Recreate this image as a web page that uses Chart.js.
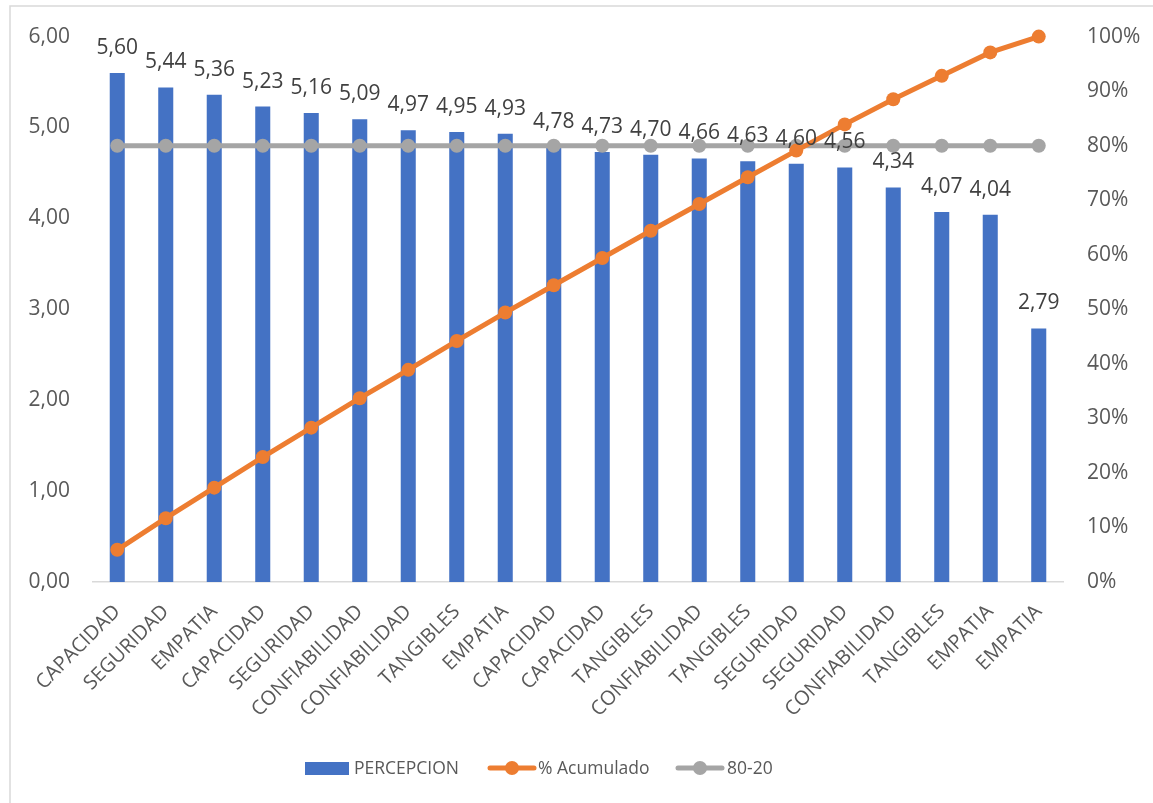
<!DOCTYPE html>
<html lang="es">
<head>
    <meta charset="UTF-8">
    <title>Pareto - Percepcion</title>
    <script src="https://cdn.jsdelivr.net/npm/chart.js"></script>
    <style>
        html, body {
            margin: 0;
            padding: 0;
            background: #ffffff;
        }
        #wrap {
            width: 1153px;
            height: 803px;
            position: relative;
        }
    </style>
</head>
<body>
    <div id="wrap">
        <canvas id="pareto-chart"></canvas>
    </div>

    <script>
        // data
        const categorias = ['CAPACIDAD', 'SEGURIDAD', 'EMPATIA', 'CAPACIDAD', 'SEGURIDAD', 'CONFIABILIDAD',
            'CONFIABILIDAD', 'TANGIBLES', 'EMPATIA', 'CAPACIDAD', 'CAPACIDAD', 'TANGIBLES', 'CONFIABILIDAD',
            'TANGIBLES', 'SEGURIDAD', 'SEGURIDAD', 'CONFIABILIDAD', 'TANGIBLES', 'EMPATIA', 'EMPATIA'];
        const percepcion = [5.60, 5.44, 5.36, 5.23, 5.16, 5.09, 4.97, 4.95, 4.93, 4.78,
            4.73, 4.70, 4.66, 4.63, 4.60, 4.56, 4.34, 4.07, 4.04, 2.79];
        const acumulado = [5.9, 11.7, 17.3, 22.9, 28.3, 33.7, 38.9, 44.2, 49.4, 54.4,
            59.4, 64.4, 69.3, 74.2, 79.1, 83.9, 88.5, 92.8, 97.1, 100];
        const linea8020 = [80, 80, 80, 80, 80, 80, 80, 80, 80, 80,
            80, 80, 80, 80, 80, 80, 80, 80, 80, 80];

        const FONT = '"Open Sans", "Noto Sans", sans-serif';

        function coma(v) {
            return v.toFixed(2).replace('.', ',');
        }

        // outer frame, value labels and legend
        const extras = {
            id: 'extras',
            beforeDraw(chart) {
                const c = chart.ctx;
                c.save();
                c.strokeStyle = '#d9d9d9';
                c.lineWidth = 1.5;
                c.strokeRect(10, 6, 1300, 1000);
                c.restore();
            },
            afterDraw(chart) {
                const c = chart.ctx;
                const meta = chart.getDatasetMeta(0);
                c.save();
                c.font = '21px ' + FONT;
                c.fillStyle = '#404040';
                c.textAlign = 'center';
                c.textBaseline = 'middle';
                meta.data.forEach((bar, i) => {
                    c.fillText(coma(percepcion[i]), bar.x, bar.y - 25);
                });

                // legend
                const ly = 768;
                c.font = '17.5px ' + FONT;
                c.textAlign = 'left';
                c.fillStyle = '#4472c4';
                c.fillRect(305, ly - 6, 44, 13);
                c.fillStyle = '#595959';
                c.fillText('PERCEPCION', 354, ly + 1);

                c.strokeStyle = '#ed7d31';
                c.lineWidth = 5;
                c.lineCap = 'round';
                c.beginPath(); c.moveTo(490, ly); c.lineTo(534, ly); c.stroke();
                c.fillStyle = '#ed7d31';
                c.beginPath(); c.arc(512, ly, 7, 0, Math.PI * 2); c.fill();
                c.fillStyle = '#595959';
                c.fillText('% Acumulado', 538, ly + 1);

                c.strokeStyle = '#a5a5a5';
                c.beginPath(); c.moveTo(678, ly); c.lineTo(722, ly); c.stroke();
                c.fillStyle = '#a5a5a5';
                c.beginPath(); c.arc(700, ly, 7, 0, Math.PI * 2); c.fill();
                c.fillStyle = '#595959';
                c.fillText('80-20', 727, ly + 1);
                c.restore();
            }
        };

        const ctx = document.getElementById('pareto-chart').getContext('2d');
        new Chart(ctx, {
            data: {
                labels: categorias,
                datasets: [
                    {
                        type: 'bar',
                        label: 'PERCEPCION',
                        data: percepcion,
                        yAxisID: 'y',
                        backgroundColor: '#4472c4',
                        barPercentage: 0.62,
                        categoryPercentage: 0.5,
                        order: 3
                    },
                    {
                        type: 'line',
                        label: '80-20',
                        data: linea8020,
                        yAxisID: 'y1',
                        borderColor: '#a5a5a5',
                        backgroundColor: '#a5a5a5',
                        borderWidth: 5,
                        pointRadius: 7,
                        pointBorderWidth: 0,
                        clip: false,
                        order: 2
                    },
                    {
                        type: 'line',
                        label: '% Acumulado',
                        data: acumulado,
                        yAxisID: 'y1',
                        borderColor: '#ed7d31',
                        backgroundColor: '#ed7d31',
                        borderWidth: 5,
                        pointRadius: 7,
                        pointBorderWidth: 0,
                        clip: false,
                        order: 1
                    }
                ]
            },
            options: {
                responsive: true,
                maintainAspectRatio: false,
                animation: false,
                layout: { padding: { top: 36, left: 0, right: 0, bottom: 0 } },
                plugins: {
                    legend: { display: false },
                    tooltip: { enabled: false }
                },
                scales: {
                    x: {
                        afterFit(scale) { scale.height = 221; },
                        grid: { display: false, drawTicks: false },
                        border: { color: '#d9d9d9', width: 1.5 },
                        ticks: {
                            autoSkip: false,
                            minRotation: 45,
                            maxRotation: 45,
                            padding: 18,
                            color: '#595959',
                            font: { family: FONT, size: 20 }
                        }
                    },
                    y: {
                        position: 'left',
                        min: 0,
                        max: 6,
                        afterFit(scale) { scale.width = 93; },
                        grid: { display: false, drawTicks: false },
                        border: { display: false },
                        ticks: {
                            stepSize: 1,
                            padding: 23,
                            color: '#595959',
                            font: { family: FONT, size: 21 },
                            callback: v => coma(v)
                        }
                    },
                    y1: {
                        position: 'right',
                        min: 0,
                        max: 100,
                        afterFit(scale) { scale.width = 90; },
                        grid: { display: false, drawTicks: false },
                        border: { display: false },
                        ticks: {
                            stepSize: 10,
                            padding: 24,
                            color: '#595959',
                            font: { family: FONT, size: 21 },
                            callback: v => v + '%'
                        }
                    }
                }
            },
            plugins: [extras]
        });
    </script>
</body>
</html>
